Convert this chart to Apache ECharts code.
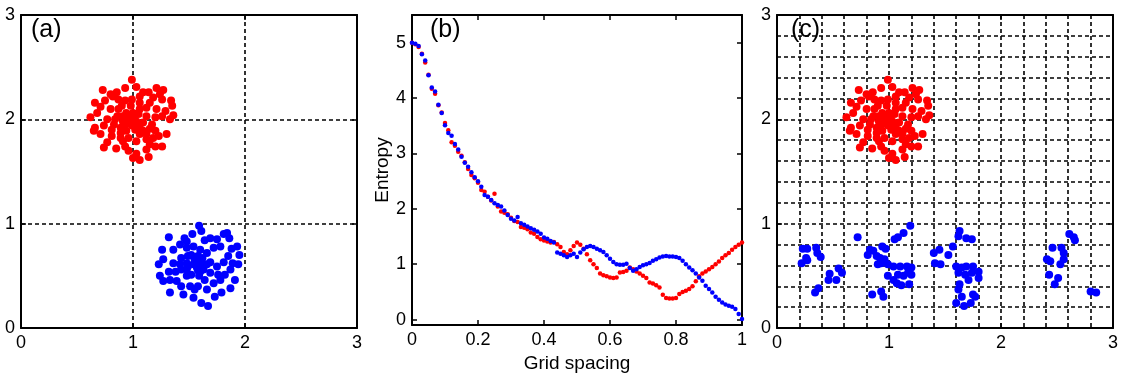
<!DOCTYPE html>
<html>
<head>
<meta charset="utf-8">
<script src="https://cdn.jsdelivr.net/npm/echarts@6/dist/echarts.min.js"></script>
<style>
  html, body { margin: 0; padding: 0; background: #fff; }
  #chart { width: 1133px; height: 378px; }
</style>
</head>
<body>
<div id="chart"></div>
<script>
// panel labels
const panelNames = ["(a)", "(b)", "(c)"];

// red cluster (same points in panel a and c)
const redCluster = [
  [0.99, 2.38], [0.73, 2.28], [0.855, 2.26], [0.93, 2.30], [1.03, 2.31], [1.09, 2.26],
  [1.14, 2.26], [1.21, 2.30], [1.27, 2.28], [1.18, 2.21], [1.26, 2.19], [1.34, 2.18],
  [1.35, 2.13], [0.66, 2.16], [0.75, 2.18], [0.82, 2.22], [0.87, 2.19], [0.93, 2.18],
  [0.99, 2.19], [1.06, 2.16], [1.12, 2.11], [1.21, 2.10], [1.29, 2.08], [1.36, 2.04],
  [1.33, 2.00], [0.62, 2.02], [0.68, 2.06], [0.80, 2.10], [0.87, 2.10], [0.94, 2.06],
  [1.00, 2.06], [1.05, 2.05], [1.12, 2.03], [1.20, 2.02], [1.26, 2.03], [0.77, 2.00],
  [0.84, 2.00], [0.91, 1.98], [0.97, 1.99], [1.03, 1.98], [1.09, 1.97], [1.17, 1.95],
  [0.66, 1.92], [0.74, 1.94], [0.81, 1.90], [0.89, 1.92], [0.94, 1.89], [1.02, 1.90],
  [1.09, 1.89], [1.20, 1.89], [0.65, 1.89], [0.71, 1.86], [0.81, 1.84], [0.89, 1.82],
  [0.96, 1.82], [1.03, 1.79], [1.12, 1.81], [1.23, 1.84], [1.30, 1.86], [0.77, 1.78],
  [0.85, 1.72], [0.93, 1.74], [0.96, 1.70], [1.03, 1.67], [1.12, 1.71], [1.20, 1.74],
  [1.26, 1.74], [1.00, 1.63], [1.06, 1.61], [1.14, 1.64], [0.74, 1.73], [1.18, 1.82],
  [0.90, 2.13], [0.98, 2.13], [0.71, 2.12], [0.86, 2.03], [0.91, 2.03], [0.99, 2.02],
  [1.06, 2.10], [1.15, 2.16], [0.83, 1.95], [0.99, 1.94], [1.06, 1.92], [1.15, 1.91],
  [0.89, 1.87], [1.06, 1.86], [1.12, 1.86], [0.91, 1.79], [1.15, 1.76], [0.80, 2.24],
  [1.06, 2.22], [1.24, 2.24], [0.95, 2.00], [1.01, 2.01], [0.93, 1.95], [1.04, 1.94]
];

// blue cluster, panel a
const blueA = [
  [1.59, 0.98], [1.32, 0.87], [1.46, 0.86], [1.53, 0.90], [1.61, 0.93], [1.69, 0.86],
  [1.75, 0.85], [1.81, 0.90], [1.86, 0.86], [1.93, 0.78], [1.95, 0.70], [1.94, 0.61],
  [1.91, 0.46], [1.87, 0.38], [1.79, 0.34], [1.73, 0.30], [1.67, 0.21], [1.61, 0.24],
  [1.54, 0.29], [1.45, 0.32], [1.33, 0.34], [1.27, 0.45], [1.23, 0.61], [1.26, 0.75],
  [1.27, 0.66], [1.36, 0.75], [1.42, 0.80], [1.48, 0.77], [1.54, 0.78], [1.60, 0.75],
  [1.66, 0.72], [1.72, 0.77], [1.78, 0.78], [1.85, 0.69], [1.81, 0.63], [1.75, 0.59],
  [1.69, 0.63], [1.61, 0.64], [1.55, 0.66], [1.49, 0.69], [1.43, 0.67], [1.36, 0.62],
  [1.32, 0.54], [1.38, 0.54], [1.43, 0.56], [1.49, 0.59], [1.57, 0.58], [1.63, 0.56],
  [1.69, 0.53], [1.76, 0.51], [1.82, 0.51], [1.87, 0.56], [1.33, 0.46], [1.39, 0.45],
  [1.48, 0.50], [1.52, 0.51], [1.59, 0.50], [1.64, 0.46], [1.72, 0.43], [1.51, 0.40],
  [1.58, 0.40], [1.66, 0.37], [1.43, 0.40], [1.55, 0.37], [1.78, 0.46], [1.89, 0.62],
  [1.88, 0.76], [1.48, 0.83], [1.64, 0.84], [1.52, 0.70], [1.58, 0.69], [1.48, 0.62],
  [1.54, 0.61], [1.60, 0.59], [1.66, 0.61], [1.42, 0.61], [1.48, 0.56], [1.60, 0.54],
  [1.24, 0.50], [1.84, 0.91], [1.56, 0.63], [1.62, 0.67], [1.58, 0.55]
];

// blue points, panel c
const blueC = [
  [0.23, 0.76], [0.27, 0.76], [0.35, 0.77], [0.36, 0.72], [0.39, 0.68], [0.26, 0.67],
  [0.22, 0.62], [0.27, 0.65], [0.47, 0.52], [0.46, 0.46], [0.53, 0.46], [0.55, 0.57],
  [0.58, 0.53], [0.37, 0.38], [0.34, 0.34],
  [0.72, 0.87], [0.83, 0.75], [0.86, 0.74], [0.81, 0.70], [0.94, 0.78], [0.97, 0.76],
  [0.89, 0.69], [0.92, 0.67], [0.93, 0.62], [0.96, 0.66], [0.90, 0.61], [0.99, 0.61],
  [1.05, 0.85], [1.08, 0.87], [1.13, 0.91], [1.19, 0.98], [1.04, 0.59], [1.10, 0.59],
  [1.16, 0.59], [1.20, 0.58], [0.99, 0.50], [1.04, 0.46], [1.08, 0.51], [1.13, 0.50],
  [1.17, 0.53], [1.20, 0.51], [1.07, 0.43], [1.11, 0.41], [1.18, 0.42], [0.85, 0.32],
  [0.93, 0.35], [0.95, 0.30],
  [1.40, 0.72], [1.45, 0.75], [1.41, 0.62], [1.46, 0.61], [1.53, 0.70], [1.57, 0.78],
  [1.63, 0.93], [1.62, 0.88], [1.69, 0.86], [1.74, 0.85], [1.60, 0.59], [1.65, 0.58],
  [1.69, 0.59], [1.75, 0.59], [1.80, 0.54], [1.62, 0.53], [1.68, 0.51], [1.74, 0.53],
  [1.80, 0.48], [1.63, 0.42], [1.71, 0.46], [1.62, 0.37], [1.65, 0.30], [1.75, 0.32],
  [1.77, 0.30], [1.60, 0.24], [1.67, 0.21], [1.73, 0.24],
  [2.46, 0.77], [2.54, 0.77], [2.56, 0.72], [2.61, 0.90], [2.65, 0.87], [2.66, 0.84],
  [2.41, 0.66], [2.44, 0.64], [2.56, 0.66], [2.53, 0.61], [2.43, 0.51], [2.51, 0.48],
  [2.48, 0.42], [2.80, 0.35], [2.85, 0.34]
];

// panel b: grid spacing vs entropy
const spacing = [
  0.00, 0.01, 0.02, 0.03, 0.04, 0.05, 0.06, 0.07, 0.08, 0.09,
  0.10, 0.11, 0.12, 0.13, 0.14, 0.15, 0.16, 0.17, 0.18, 0.19,
  0.20, 0.21, 0.22, 0.23, 0.24, 0.25, 0.26, 0.27, 0.28, 0.29,
  0.30, 0.31, 0.32, 0.33, 0.34, 0.35, 0.36, 0.37, 0.38, 0.39,
  0.40, 0.41, 0.42, 0.43, 0.44, 0.45, 0.46, 0.47, 0.48, 0.49,
  0.50, 0.51, 0.52, 0.53, 0.54, 0.55, 0.56, 0.57, 0.58, 0.59,
  0.60, 0.61, 0.62, 0.63, 0.64, 0.65, 0.66, 0.67, 0.68, 0.69,
  0.70, 0.71, 0.72, 0.73, 0.74, 0.75, 0.76, 0.77, 0.78, 0.79,
  0.80, 0.81, 0.82, 0.83, 0.84, 0.85, 0.86, 0.87, 0.88, 0.89,
  0.90, 0.91, 0.92, 0.93, 0.94, 0.95, 0.96, 0.97, 0.98, 0.99, 1.00
];
const entropyRed = [
  5.00, 4.97, 4.92, 4.80, 4.64, 4.42, 4.17, 4.08, 3.87, 3.74,
  3.55, 3.42, 3.20, 3.14, 3.03, 2.96, 2.84, 2.72, 2.61, 2.55,
  2.47, 2.34, 2.31, 2.22, 2.15, 2.27, 2.04, 1.95, 1.93, 1.90,
  1.84, 1.78, 1.76, 1.67, 1.66, 1.63, 1.57, 1.55, 1.49, 1.45,
  1.43, 1.41, 1.39, 1.40, 1.36, 1.31, 1.22, 1.18, 1.25, 1.33,
  1.39, 1.35, 1.28, 1.18, 1.07, 1.00, 0.93, 0.83, 0.80, 0.78,
  0.76, 0.75, 0.76, 0.85, 0.86, 0.88, 0.94, 0.91, 0.87, 0.83,
  0.79, 0.75, 0.67, 0.65, 0.62, 0.58, 0.45, 0.39, 0.38, 0.38,
  0.39, 0.46, 0.50, 0.52, 0.55, 0.60, 0.69, 0.78, 0.83, 0.87,
  0.91, 0.95, 1.00, 1.05, 1.11, 1.16, 1.20, 1.26, 1.31, 1.35, 1.39
];
const entropyBlue = [
  5.00, 4.98, 4.94, 4.79, 4.68, 4.41, 4.19, 4.12, 3.88, 3.73,
  3.51, 3.37, 3.32, 3.17, 3.07, 2.94, 2.83, 2.76, 2.66, 2.57,
  2.50, 2.40, 2.25, 2.22, 2.16, 2.10, 2.07, 2.04, 1.97, 1.89,
  1.82, 1.79, 1.85, 1.74, 1.71, 1.68, 1.65, 1.62, 1.59, 1.55,
  1.48, 1.46, 1.42, 1.39, 1.21, 1.19, 1.16, 1.13, 1.16, 1.19,
  1.13, 1.21, 1.27, 1.31, 1.33, 1.31, 1.28, 1.25, 1.22, 1.16,
  1.10, 1.04, 1.00, 0.99, 0.99, 1.01, 0.93, 0.88, 0.91, 0.95,
  0.98, 1.00, 1.02, 1.06, 1.09, 1.12, 1.14, 1.15, 1.14, 1.14,
  1.13, 1.11, 1.06, 1.00, 0.94, 0.89, 0.83, 0.76, 0.70, 0.61,
  0.55, 0.49, 0.41, 0.36, 0.31, 0.27, 0.25, 0.23, 0.19, 0.10, 0.01
];
const entropyTicks = [0, 1, 2, 3, 4, 5];

const chart = echarts.init(document.getElementById("chart"));

const font = "Liberation Sans";
const black = "#000";
const dashed = { show: true, lineStyle: { color: black, type: [4, 3], width: 1.6 } };
const tickStyle = { color: black, width: 1.5 };

// one axis of a boxed matlab style panel
function axis(gridIndex, position, min, max, extra) {
  const primary = position === "bottom" || position === "left";
  return Object.assign({
    type: "value",
    gridIndex: gridIndex,
    position: position,
    min: min,
    max: max,
    axisLine: { show: true, onZero: false, lineStyle: { color: black, width: 2 } },
    axisTick: { show: true, inside: true, length: 5, lineStyle: tickStyle },
    axisLabel: { show: primary, margin: 6, color: black, fontFamily: font, fontSize: 18 },
    splitLine: { show: false }
  }, extra || {});
}

const gridLines = { interval: 1, splitLine: dashed };
const fineGrid = {
  interval: 1,
  splitLine: dashed,
  minorTick: { show: false, splitNumber: 5 },
  minorSplitLine: dashed
};

const option = {
  animation: false,
  backgroundColor: "#fff",
  title: panelNames.map((t, i) => ({
    text: t,
    left: [31, 430, 791][i],
    top: 18,
    padding: 0,
    textStyle: { fontFamily: font, fontSize: 25, fontWeight: "normal", color: black }
  })),
  grid: [
    { left: 21, top: 15, width: 336, height: 313 },
    { left: 412, top: 15, width: 330, height: 313 },
    { left: 777, top: 15, width: 336, height: 313 }
  ],
  xAxis: [
    axis(0, "bottom", 0, 3, gridLines),
    axis(0, "top", 0, 3, { interval: 1 }),
    axis(1, "bottom", 0, 1, {
      interval: 0.2,
      name: "Grid spacing",
      nameLocation: "middle",
      nameGap: 21,
      nameTextStyle: { fontFamily: font, fontSize: 19, color: black }
    }),
    axis(1, "top", 0, 1, { interval: 0.2 }),
    axis(2, "bottom", 0, 3, fineGrid),
    axis(2, "top", 0, 3, { interval: 1 })
  ],
  yAxis: [
    axis(0, "left", 0, 3, gridLines),
    axis(0, "right", 0, 3, { interval: 1 }),
    axis(1, "left", -0.1, 5.5, {
      axisLabel: { show: true, margin: 6, color: black, fontFamily: font, fontSize: 18, customValues: entropyTicks },
      axisTick: { show: true, inside: true, length: 5, customValues: entropyTicks, lineStyle: tickStyle },
      name: "Entropy",
      nameLocation: "middle",
      nameGap: 18,
      nameTextStyle: { fontFamily: font, fontSize: 19, color: black }
    }),
    axis(1, "right", -0.1, 5.5, {
      axisTick: { show: true, inside: true, length: 5, customValues: entropyTicks, lineStyle: tickStyle }
    }),
    axis(2, "left", 0, 3, fineGrid),
    axis(2, "right", 0, 3, { interval: 1 })
  ],
  series: [
    { type: "scatter", xAxisIndex: 0, yAxisIndex: 0, data: redCluster, symbolSize: 8, itemStyle: { color: "#ff0000", opacity: 1 } },
    { type: "scatter", xAxisIndex: 0, yAxisIndex: 0, data: blueA, symbolSize: 8, itemStyle: { color: "#0000ff", opacity: 1 } },
    { type: "scatter", xAxisIndex: 2, yAxisIndex: 2, data: spacing.map((x, i) => [x, entropyRed[i]]), symbolSize: 4.5, itemStyle: { color: "#ff0000", opacity: 1 } },
    { type: "scatter", xAxisIndex: 2, yAxisIndex: 2, data: spacing.map((x, i) => [x, entropyBlue[i]]), symbolSize: 4.5, itemStyle: { color: "#0000ff", opacity: 1 } },
    { type: "scatter", xAxisIndex: 4, yAxisIndex: 4, data: redCluster, symbolSize: 8, itemStyle: { color: "#ff0000", opacity: 1 } },
    { type: "scatter", xAxisIndex: 4, yAxisIndex: 4, data: blueC, symbolSize: 8, itemStyle: { color: "#0000ff", opacity: 1 } }
  ]
};

chart.setOption(option);
</script>
</body>
</html>
